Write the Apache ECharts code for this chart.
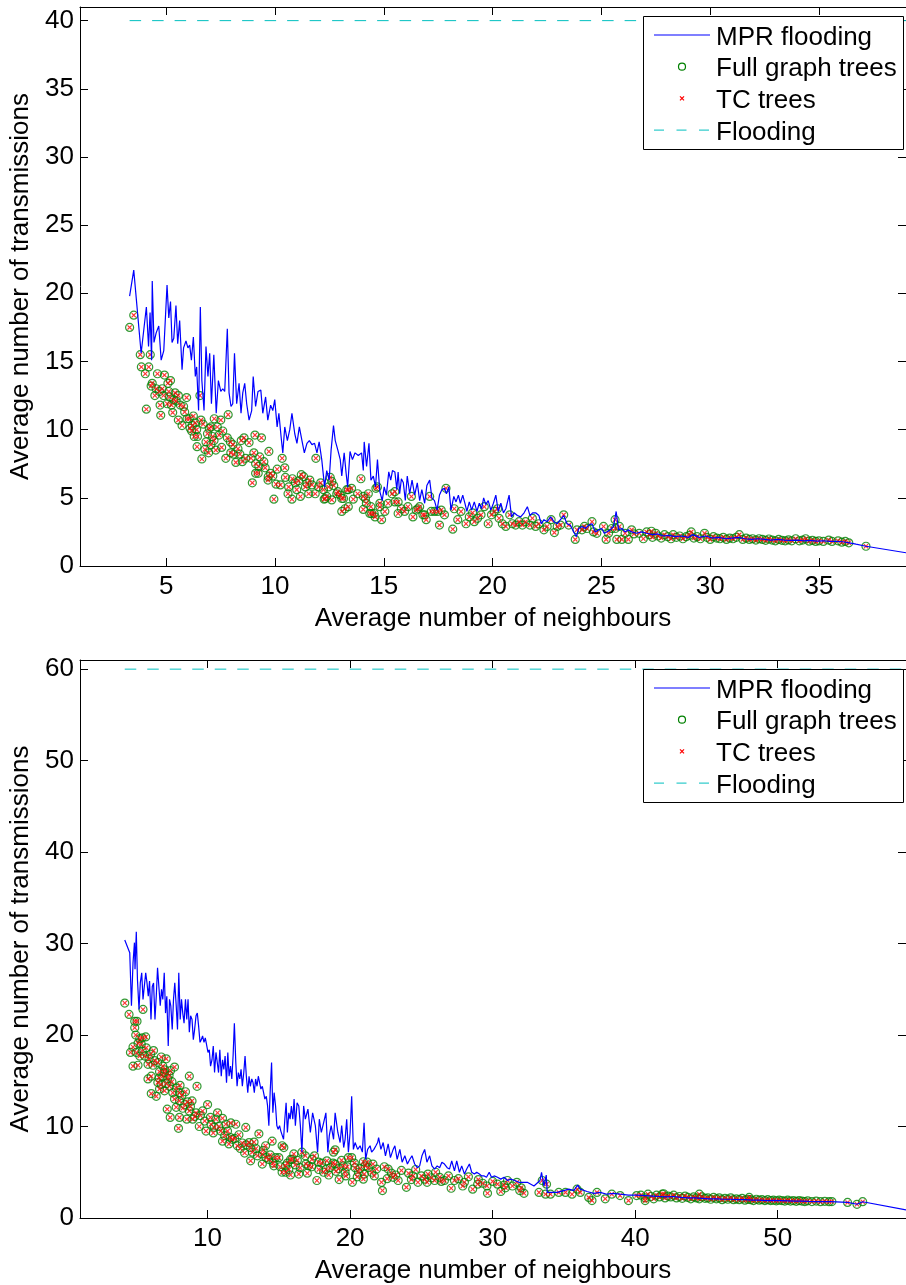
<!DOCTYPE html>
<html>
<head>
<meta charset="utf-8">
<script src="https://cdn.jsdelivr.net/npm/echarts@6/dist/echarts.min.js"></script>
<style>
html,body{margin:0;padding:0;background:#fff;}
#chart{width:906px;height:1285px;}
</style>
</head>
<body>
<div id="chart"></div>
<script>
// ---------- upper panel: networks with 40 nodes ----------
const mprTop = [
[3.32,19.8],[3.51,21.7],[3.85,15.6],[4.09,19.0],[4.19,16.1],[4.26,18.6],[4.33,15.1],[4.36,20.9],[4.44,16.4],[4.54,17.1],
[4.66,17.6],[4.77,15.1],[4.89,15.8],[5.04,20.6],[5.12,18.2],[5.20,19.4],[5.27,16.4],[5.35,16.7],[5.45,19.1],[5.53,16.3],
[5.62,18.0],[5.73,14.4],[5.80,16.0],[5.91,16.5],[6.00,16.0],[6.08,16.2],[6.16,15.1],[6.25,16.8],[6.34,13.9],[6.40,14.6],
[6.49,11.4],[6.57,19.0],[6.64,13.6],[6.74,11.4],[6.83,16.1],[6.92,13.9],[7.00,15.6],[7.08,11.9],[7.19,15.5],[7.30,11.2],
[7.40,13.6],[7.51,12.8],[7.60,13.0],[7.69,12.8],[7.81,17.4],[7.89,12.7],[7.98,11.7],[8.06,11.9],[8.14,15.6],[8.24,11.9],
[8.35,13.4],[8.44,11.2],[8.52,12.7],[8.61,13.4],[8.70,11.9],[8.81,10.7],[8.93,11.4],[9.00,13.9],[9.11,11.7],[9.22,12.8],
[9.35,12.9],[9.44,11.2],[9.57,12.4],[9.67,10.7],[9.80,11.8],[9.90,11.4],[9.99,12.2],[10.10,10.2],[10.18,11.2],[10.28,9.5],
[10.36,8.3],[10.45,10.2],[10.57,9.2],[10.68,10.0],[10.78,11.2],[10.91,9.7],[11.01,9.0],[11.12,10.2],[11.24,9.2],[11.35,8.3],
[11.47,9.0],[11.58,9.2],[11.70,8.9],[11.82,9.0],[11.93,8.3],[12.03,9.1],[12.15,7.8],[12.28,5.8],[12.38,7.0],[12.49,6.3],
[12.58,8.5],[12.69,10.3],[12.77,9.2],[12.89,8.5],[13.00,7.8],[13.07,6.6],[13.18,8.3],[13.27,6.8],[13.34,5.8],[13.45,8.4],
[13.56,7.8],[13.68,8.3],[13.83,8.1],[13.98,8.3],[14.06,7.0],[14.10,9.1],[14.21,7.3],[14.32,9.0],[14.41,6.3],[14.52,6.6],
[14.62,5.8],[14.71,7.8],[14.82,5.45],[14.93,4.8],[15.02,5.8],[15.12,5.2],[15.23,6.9],[15.32,6.3],[15.40,7.0],[15.51,6.9],
[15.60,5.6],[15.66,6.9],[15.73,5.3],[15.81,6.4],[15.90,6.1],[15.99,4.8],[16.08,6.6],[16.19,5.3],[16.30,6.3],[16.42,5.2],
[16.54,6.1],[16.65,4.8],[16.75,5.6],[16.88,4.6],[16.98,5.9],[17.11,6.3],[17.21,5.0],[17.33,4.8],[17.45,4.1],[17.56,5.2],
[17.67,5.6],[17.79,5.7],[17.88,5.3],[17.99,5.8],[18.09,4.1],[18.22,5.1],[18.32,4.7],[18.43,5.2],[18.52,4.6],[18.63,5.2],
[18.73,4.6],[18.82,4.0],[18.93,4.7],[19.04,4.1],[19.16,4.7],[19.28,4.0],[19.39,4.6],[19.50,4.2],[19.59,5.0],[19.69,4.5],
[19.80,4.8],[19.92,4.1],[20.04,4.6],[20.15,5.2],[20.26,4.0],[20.38,4.6],[20.50,3.9],[20.61,4.2],[20.76,5.2],[20.87,3.6],
[20.99,3.9],[21.14,3.7],[21.29,3.6],[21.45,3.9],[21.60,4.35],[21.72,3.7],[21.84,3.9],[21.98,3.9],[22.13,3.7],[22.24,3.1],
[22.36,3.4],[22.51,3.25],[22.67,3.6],[22.82,3.25],[22.97,3.1],[23.12,3.4],[23.27,3.7],[23.42,3.1],[23.57,3.0],[23.73,2.5],
[23.85,2.15],[23.96,2.75],[24.11,2.9],[24.26,2.75],[24.42,3.0],[24.57,3.1],[24.72,2.5],[24.87,2.65],[25.02,2.75],[25.13,2.4],
[25.25,2.5],[25.40,2.65],[25.56,2.9],[25.68,4.0],[25.79,2.65],[25.94,2.75],[26.09,2.5],[26.24,2.65],[26.39,2.5],[26.62,2.4],
[26.85,2.5],[27.08,2.4],[27.35,2.3],[27.60,2.35],[27.85,2.2],[28.10,2.25],[28.40,2.15],[28.70,2.2],[29.00,2.1],[29.20,2.3],
[29.50,2.1],[29.80,2.2],[30.10,2.05],[30.40,2.1],[30.70,2.0],[31.00,2.05],[31.30,2.1],[31.60,2.0],[31.90,1.95],[32.20,2.0],
[32.50,1.95],[32.80,1.9],[33.10,1.95],[33.40,1.9],[33.70,1.88],[34.00,1.9],[34.30,1.85],[34.60,1.88],[34.90,1.82],[35.20,1.85],
[35.50,1.8],[35.80,1.8],[36.10,1.78],[36.40,1.7],[36.70,1.6],[37.16,1.45],[39.00,0.97]
];
const fullTreesTop = [
[3.32,17.5],[3.51,18.4],[3.81,15.5],[4.27,15.5],[3.86,14.6],[4.20,14.6],[4.04,14.1],[4.60,14.1],[4.92,14.0],[5.20,13.6],
[4.36,13.4],[4.31,13.2],[4.54,13.0],[4.82,13.0],[5.08,13.4],[4.48,12.5],[4.69,12.8],[4.88,12.5],[5.12,12.8],[5.15,12.4],
[5.41,12.7],[5.56,12.5],[5.94,12.35],[6.55,12.5],[5.46,12.1],[5.24,11.8],[5.65,11.8],[4.72,11.8],[4.09,11.5],[4.75,11.05],
[5.30,11.25],[5.56,10.7],[5.73,10.3],[5.96,10.8],[6.06,10.8],[6.34,10.5],[6.17,9.9],[6.40,10.0],[6.60,10.7],[6.98,10.1],
[7.21,10.8],[7.51,10.7],[7.85,11.1],[7.06,10.2],[6.44,9.5],[6.29,9.5],[6.83,9.1],[7.13,9.5],[7.43,9.6],[7.81,9.4],
[6.42,8.75],[6.78,8.55],[7.06,8.9],[7.28,8.5],[6.64,7.85],[6.95,8.3],[7.74,7.9],[8.07,8.9],[7.97,8.3],[8.20,7.6],
[8.39,8.2],[8.50,7.65],[8.65,7.9],[8.81,9.05],[8.58,9.4],[9.03,8.3],[9.11,7.5],[8.96,6.1],[9.11,6.8],[9.23,6.8],
[9.38,9.4],[9.72,8.4],[9.68,6.3],[9.80,6.8],[9.95,4.9],[10.33,7.9],[10.25,5.95],[10.48,6.5],[10.63,5.8],[10.78,4.9],
[10.94,6.1],[11.09,6.25],[11.21,6.7],[11.17,5.1],[11.40,5.8],[11.55,5.3],[11.70,5.95],[11.88,7.9],[12.00,5.8],[12.26,4.9],
[12.38,5.1],[12.54,6.5],[12.61,4.85],[12.84,5.3],[13.07,4.0],[13.15,4.95],[13.30,5.6],[13.37,4.35],[13.52,5.7],[13.95,6.4],
[14.06,4.15],[14.16,4.95],[14.29,5.3],[14.41,4.35],[14.56,3.85],[14.64,5.7],[9.08,9.6],[9.49,7.65],[9.26,7.3],[9.69,6.55],
[11.32,6.55],[11.47,6.05],[12.61,6.2],[12.46,5.8],[12.89,5.45],[13.07,4.95],[13.22,4.2],[13.37,5.6],[12.31,4.95],[12.23,5.6],
[14.71,5.8],[14.44,3.85],[14.82,4.35],[15.05,4.0],[14.90,3.4],[15.20,4.6],[15.38,5.3],[15.51,5.45],[15.66,4.7],[15.81,4.2],
[15.96,4.0],[16.11,4.35],[16.27,5.1],[16.49,4.1],[16.65,4.35],[16.88,3.75],[17.11,5.1],[17.33,4.0],[17.56,3.0],[17.64,4.1],
[17.86,5.7],[14.06,5.1],[14.36,3.85],[14.60,3.6],[14.82,4.6],[15.51,4.7],[15.66,3.85],[16.34,3.6],[16.57,4.2],[16.80,3.75],
[16.95,3.4],[17.18,4.0],[17.48,4.0],[17.79,3.75],[18.17,2.7],[18.24,4.2],[18.40,3.4],[18.55,4.0],[18.78,3.1],[18.93,3.6],
[19.08,3.9],[19.16,3.25],[19.31,3.5],[19.47,3.75],[19.62,4.35],[19.80,3.1],[19.95,3.75],[20.08,4.0],[20.23,4.2],[20.30,3.5],
[20.45,3.1],[20.61,2.9],[20.79,3.75],[20.91,3.1],[21.06,3.0],[21.22,3.25],[21.37,3.0],[21.52,3.25],[21.72,3.0],[21.83,3.5],
[21.98,2.9],[22.13,3.1],[22.36,2.65],[22.51,2.9],[22.69,3.4],[22.84,2.45],[22.97,2.9],[23.12,3.0],[23.27,3.75],[23.50,3.0],
[23.80,1.95],[23.88,2.65],[24.11,2.65],[24.22,2.9],[24.34,2.75],[24.57,3.25],[24.64,2.5],[24.79,2.4],[25.10,2.9],[25.22,1.95],
[25.33,2.4],[25.48,2.75],[25.63,3.4],[25.71,1.95],[25.83,2.9],[25.94,1.95],[26.09,2.4],[26.24,1.95],[26.39,2.65],[26.50,2.35],
[26.74,2.4],[26.93,2.0],[25.64,2.75],[27.08,2.5],[27.20,2.3],[27.30,2.55],[27.35,2.1],[27.50,2.4],[27.60,2.2],[27.75,2.05],
[27.90,2.3],[28.05,2.15],[28.20,2.0],[28.30,2.3],[28.45,2.1],[28.60,2.2],[28.75,2.0],[28.90,2.15],[29.05,2.25],[29.13,2.5],
[29.25,2.05],[29.40,2.15],[29.55,2.0],[29.74,2.4],[29.85,2.1],[30.00,1.95],[30.15,2.15],[30.30,2.05],[30.45,2.0],[30.60,2.1],
[30.75,1.95],[30.90,2.05],[31.05,2.0],[31.20,2.1],[31.34,2.3],[31.50,1.95],[31.65,2.05],[31.80,1.95],[31.95,2.0],[32.10,1.9],
[32.25,2.0],[32.40,1.95],[32.55,1.88],[32.70,1.98],[32.85,1.9],[33.00,1.85],[33.15,1.95],[33.30,1.88],[33.45,1.85],[33.60,1.92],
[33.75,1.85],[33.93,2.0],[34.10,1.85],[34.25,1.9],[34.39,2.0],[34.55,1.82],[34.70,1.88],[34.85,1.8],[35.00,1.85],[35.20,1.8],
[35.45,1.9],[35.60,1.8],[35.88,1.85],[36.05,1.75],[36.21,1.8],[36.37,1.7],[37.16,1.45],
[5.35,12.2],[5.05,11.9],[5.85,11.3],[6.25,11.0],[6.70,10.4],[6.20,10.3],[7.35,10.2],[7.60,9.9],[7.20,9.2],[6.90,9.7],
[7.95,9.1],[8.30,8.6],[8.45,9.2],[8.90,7.9],[9.30,8.0],[9.55,7.2],[9.90,6.6],[10.10,7.1],[10.45,7.2],[10.80,6.4],
[11.00,5.6],[11.60,6.3],[11.85,5.3],[12.10,6.1],[12.70,5.9],[13.00,5.2],[13.60,4.9],[13.80,5.3],[14.20,4.6],[10.05,6.0],
[10.60,5.3],[8.10,8.2],[7.55,8.7],[6.10,10.1],[5.80,11.7]
];
// the TC-based trees need exactly as many transmissions as the full-graph trees
const tcTreesTop = fullTreesTop;
const floodTop = [[3.32,40],[39.00,40]];
const xRangeTop = [1.04, 39];
const yRangeTop = [0, 41];
const xTicksTop = [5,10,15,20,25,30,35];
const yTicksTop = [0,5,10,15,20,25,30,35,40];

// ---------- lower panel: networks with 60 nodes ----------
const mprBottom = [
[4.19,30.4],[4.54,29.0],[4.66,23.2],[4.77,27.9],[4.87,30.1],[4.91,27.2],[5.00,31.3],[5.08,26.1],[5.19,22.8],[5.28,25.7],
[5.38,26.8],[5.47,23.9],[5.56,25.3],[5.66,26.8],[5.75,25.7],[5.84,24.25],[5.93,25.9],[6.03,21.7],[6.12,25.3],[6.21,25.7],
[6.31,21.7],[6.40,24.25],[6.49,27.35],[6.59,27.2],[6.68,23.2],[6.77,25.0],[6.86,23.9],[6.96,26.8],[7.05,22.4],[7.14,24.25],
[7.24,18.8],[7.33,23.9],[7.42,23.2],[7.52,20.6],[7.61,23.9],[7.70,25.7],[7.80,23.2],[7.89,20.6],[7.98,26.8],[8.08,21.7],
[8.17,23.9],[8.26,22.4],[8.35,21.3],[8.45,23.9],[8.54,21.7],[8.63,23.9],[8.72,20.3],[8.81,22.1],[8.91,21.7],[9.00,19.5],
[9.09,20.6],[9.19,22.1],[9.28,22.4],[9.37,21.0],[9.47,19.2],[9.56,19.5],[9.65,19.9],[9.75,19.2],[9.84,19.7],[9.93,19.9],
[10.03,18.1],[10.12,18.4],[10.21,16.6],[10.31,17.3],[10.40,18.8],[10.49,15.9],[10.59,18.1],[10.68,17.0],[10.77,15.9],[10.86,18.4],
[10.96,15.5],[11.05,17.3],[11.14,16.25],[11.23,17.7],[11.33,14.8],[11.42,18.1],[11.51,15.5],[11.61,16.6],[11.70,15.2],[11.79,17.7],
[11.88,21.3],[11.98,17.0],[12.07,14.4],[12.16,15.9],[12.26,15.2],[12.35,16.25],[12.44,14.4],[12.54,15.9],[12.63,17.7],[12.72,15.5],
[12.82,13.7],[12.91,15.5],[13.00,14.4],[13.10,15.2],[13.19,14.8],[13.28,13.7],[13.37,15.2],[13.47,14.4],[13.56,15.5],[13.65,14.8],
[13.74,14.1],[13.84,14.4],[13.93,13.7],[14.02,13.0],[14.12,13.3],[14.21,12.25],[14.30,10.1],[14.39,13.7],[14.49,17.0],[14.58,11.5],
[14.67,13.7],[14.77,12.25],[14.86,10.1],[14.95,9.7],[15.05,10.1],[15.14,9.5],[15.23,9.35],[15.33,8.6],[15.42,10.8],[15.51,12.6],
[15.60,9.35],[15.70,11.5],[15.79,10.8],[15.88,12.25],[15.98,10.8],[16.07,13.0],[16.16,10.1],[16.28,12.6],[16.40,12.25],[16.51,10.1],
[16.62,7.2],[16.74,12.25],[16.86,10.8],[17.04,11.9],[17.21,9.35],[17.37,11.5],[17.56,10.1],[17.72,7.2],[17.84,10.8],[17.98,9.35],
[18.14,10.4],[18.30,11.5],[18.44,7.2],[18.54,9.0],[18.67,10.1],[18.84,8.6],[18.95,11.5],[19.14,9.35],[19.30,8.25],[19.41,10.1],
[19.55,7.7],[19.65,8.6],[19.76,10.8],[19.88,7.2],[20.00,9.35],[20.11,13.3],[20.23,7.5],[20.35,8.25],[20.53,7.5],[20.70,7.9],
[20.86,7.2],[20.98,10.4],[21.09,6.4],[21.23,7.5],[21.40,7.9],[21.51,7.2],[21.67,7.5],[21.81,7.9],[21.93,8.25],[22.00,8.8],
[22.16,7.5],[22.32,8.25],[22.48,6.8],[22.67,8.1],[22.83,6.6],[23.02,7.5],[23.14,7.9],[23.30,6.4],[23.49,7.5],[23.65,6.1],
[23.84,6.8],[24.02,5.9],[24.18,6.4],[24.34,6.8],[24.53,5.9],[24.71,5.5],[24.88,5.7],[25.04,6.8],[25.23,7.5],[25.39,6.1],
[25.58,6.8],[25.74,5.7],[25.93,5.35],[26.11,5.7],[26.28,5.5],[26.44,6.1],[26.62,5.9],[26.81,5.5],[26.97,5.35],[27.13,6.25],
[27.32,5.15],[27.48,6.25],[27.67,5.0],[27.83,5.7],[28.02,4.8],[28.18,5.35],[28.37,5.9],[28.53,5.0],[28.72,4.8],[28.88,5.0],
[29.07,4.8],[29.23,4.6],[29.41,4.6],[29.57,4.45],[29.76,5.0],[29.92,4.45],[30.11,4.6],[30.34,4.45],[30.57,4.25],[30.81,4.45],
[31.04,4.1],[31.27,4.25],[31.55,4.1],[31.86,3.9],[32.20,3.9],[32.43,3.9],[32.90,3.5],[33.32,4.1],[33.43,5.0],[33.60,3.5],
[33.76,4.7],[33.83,2.8],[34.06,2.8],[34.53,2.8],[34.99,3.0],[35.34,3.15],[35.69,3.0],[35.97,3.6],[36.15,3.15],[36.62,2.9],
[37.09,2.7],[37.55,2.8],[38.01,2.6],[38.48,2.7],[38.94,2.6],[39.53,2.5],[40.10,2.5],[40.68,2.45],[41.20,2.4],[41.70,2.35],
[42.20,2.3],[42.70,2.35],[43.20,2.25],[43.70,2.2],[44.20,2.2],[44.70,2.15],[45.20,2.1],[45.70,2.1],[46.20,2.05],[46.70,2.05],
[47.20,2.0],[47.70,2.0],[48.20,1.95],[48.70,1.95],[49.20,1.9],[49.70,1.92],[50.20,1.9],[50.70,1.88],[51.20,1.85],[51.70,1.85],
[52.20,1.82],[52.70,1.8],[53.20,1.8],[53.70,1.78],[54.90,1.7],[55.56,1.5],[55.96,1.78],[59.00,0.88]
];
const fullTreesBottom = [
[4.19,23.5],[4.49,22.25],[5.47,22.8],[4.89,21.5],[5.05,21.5],[4.89,20.8],[4.96,20.0],[5.24,19.6],[5.42,19.7],[5.66,19.8],
[5.12,19.1],[5.35,19.0],[4.77,18.7],[4.59,18.1],[5.00,18.1],[6.21,18.3],[5.42,18.25],[5.24,17.7],[5.59,17.7],[5.89,17.4],
[6.75,17.6],[7.10,17.4],[4.77,16.6],[5.12,16.7],[5.82,16.8],[6.17,16.7],[6.51,17.0],[6.86,16.6],[7.68,16.5],[7.40,16.1],
[6.98,15.9],[6.63,16.0],[6.05,15.5],[5.82,15.2],[6.86,15.5],[7.21,15.25],[6.51,14.8],[6.75,14.6],[7.10,14.7],[7.33,14.4],
[8.07,14.5],[8.72,15.5],[9.26,14.4],[6.63,14.1],[6.98,13.9],[7.56,13.7],[8.03,13.7],[8.45,13.8],[6.05,13.6],[6.40,13.3],
[7.68,13.0],[8.03,12.8],[8.60,12.7],[8.91,12.8],[7.17,11.9],[7.80,12.1],[8.26,12.0],[8.72,11.7],[9.19,11.5],[9.65,11.7],
[10.00,12.4],[7.38,11.0],[8.03,11.0],[8.54,10.8],[8.96,10.8],[9.42,10.0],[7.96,9.8],[9.89,9.5],[10.24,10.25],[10.59,10.8],
[10.70,11.5],[11.05,10.9],[11.28,10.25],[11.63,10.4],[10.47,9.9],[10.93,9.5],[11.40,9.5],[12.68,9.9],[11.98,10.25],[11.05,8.4],
[11.74,8.6],[12.09,7.9],[12.44,8.2],[12.91,8.25],[13.26,8.3],[13.60,9.2],[13.14,7.2],[13.84,7.0],[14.53,8.4],[15.23,7.9],
[14.07,7.9],[13.02,6.25],[14.30,6.4],[14.77,6.6],[13.84,5.9],[14.65,5.7],[15.47,5.7],[15.82,6.4],[16.05,7.0],[15.35,7.7],
[15.47,5.0],[15.82,4.7],[15.93,6.4],[16.16,5.8],[16.40,4.8],[16.62,7.2],[16.86,6.8],[17.09,5.7],[17.32,6.4],[17.67,4.1],
[17.79,6.1],[18.14,5.0],[18.37,6.25],[18.60,5.5],[18.84,7.2],[18.95,5.9],[19.23,4.2],[19.53,5.7],[19.65,5.0],[19.88,6.6],
[20.16,3.9],[20.35,5.5],[20.58,5.0],[20.93,4.25],[21.05,5.7],[21.51,5.0],[21.86,5.35],[15.23,5.0],[18.95,7.45],[20.11,6.6],
[20.93,6.15],[21.28,5.5],[22.20,3.9],[22.27,3.0],[22.67,5.35],[23.02,4.45],[23.37,4.1],[23.95,3.35],[24.41,4.6],[24.76,3.9],
[25.23,4.25],[25.46,4.8],[25.93,4.1],[26.28,4.45],[26.62,4.1],[27.09,3.25],[27.32,4.1],[28.02,3.9],[28.60,3.15],[28.95,3.7],
[29.64,2.7],[30.34,3.7],[30.57,2.9],[31.04,4.1],[31.39,3.5],[32.20,2.7],[11.60,8.8],[12.20,9.1],[12.70,8.0],[13.40,7.6],
[13.90,7.4],[14.40,6.9],[15.00,6.6],[15.60,6.0],[16.30,6.3],[16.90,5.9],[17.30,5.6],[17.50,6.8],[18.00,6.0],[18.30,5.3],
[18.80,6.0],[19.00,5.1],[19.40,6.3],[19.80,5.6],[20.30,6.0],[20.70,5.4],[21.20,6.1],[21.60,5.9],[22.40,5.6],[22.90,4.9],
[23.60,5.2],[24.10,4.9],[24.60,5.3],[25.00,4.6],[25.70,4.4],[26.00,5.0],[26.90,4.6],[27.60,4.3],[28.30,4.5],[29.00,4.2],
[29.30,3.8],[30.00,4.0],[30.80,3.6],[31.70,3.9],[32.00,3.3],[33.25,2.8],[33.48,4.1],[33.78,3.7],[33.71,2.6],[34.06,2.6],
[34.64,2.8],[35.11,2.8],[35.57,2.6],[35.92,3.15],[36.15,2.8],[36.74,2.25],[36.97,1.9],[37.32,2.8],[37.90,2.1],[38.36,2.6],
[38.94,2.45],[39.53,1.9],[40.10,2.45],[40.40,2.5],[40.70,2.2],[40.70,1.9],[40.90,2.6],[41.10,2.35],[41.30,2.1],[41.50,2.5],
[41.70,2.3],[41.90,2.6],[42.00,2.65],[42.10,2.2],[42.30,2.4],[42.50,2.3],[42.70,2.5],[42.90,2.2],[43.10,2.35],[43.30,2.15],
[43.50,2.4],[43.70,2.25],[43.90,2.1],[44.10,2.3],[44.30,2.2],[44.50,2.6],[44.50,2.1],[44.70,2.3],[44.90,2.15],[45.10,2.2],
[45.30,2.05],[45.50,2.25],[45.70,2.1],[45.90,2.2],[46.10,2.0],[46.30,2.15],[46.50,2.05],[46.70,2.2],[46.90,2.0],[47.10,2.1],
[47.30,2.0],[47.50,2.15],[47.70,1.95],[47.90,2.05],[48.00,2.25],[48.10,2.0],[48.30,1.9],[48.50,2.05],[48.70,1.95],[48.90,2.0],
[49.10,1.9],[49.30,2.0],[49.50,1.9],[49.70,1.95],[49.90,1.88],[50.10,1.95],[50.30,1.9],[50.50,1.85],[50.70,1.95],[50.90,1.85],
[51.10,1.9],[51.30,1.82],[51.50,1.9],[51.70,1.85],[51.90,1.8],[52.10,1.88],[52.40,1.8],[52.70,1.85],[53.00,1.78],[53.30,1.82],
[53.60,1.78],[53.80,1.8],[54.90,1.7],[55.56,1.5],[55.96,1.78],
[5.70,18.6],[6.00,17.9],[6.30,17.2],[6.60,15.3],[7.00,16.2],[7.30,15.6],[7.50,14.9],[7.80,14.2],[8.20,13.4],[8.40,12.4],
[8.80,12.2],[9.10,11.1],[9.50,11.2],[9.80,10.6],[10.20,11.0],[10.40,9.3],[10.80,10.0],[11.20,9.0],[11.50,8.1],[11.90,8.7],
[12.30,7.6],[12.60,7.1],[13.00,7.7],[13.50,6.8],[14.10,6.6],[14.60,6.0],[15.10,5.6],[15.70,5.3],[16.50,5.5],[17.00,4.9],
[17.80,5.3],[18.50,4.7],[19.20,5.4],[19.70,4.6],[20.50,4.5],[21.00,4.8],[21.70,4.6],[22.60,4.3],[23.20,4.7],[24.30,4.2],
[25.40,3.9],[26.40,4.0],[27.90,3.5],[29.60,3.5],[30.90,3.3],[31.90,3.0]
];
const tcTreesBottom = fullTreesBottom;
const floodBottom = [[4.19,60],[59.00,60]];
const xRangeBottom = [1.05, 59];
const yRangeBottom = [0, 61];
const xTicksBottom = [10,20,30,40,50];
const yTicksBottom = [0,10,20,30,40,50,60];

// ---------- labels ----------
const seriesNames = ['MPR flooding', 'Full graph trees', 'TC trees', 'Flooding'];
const xTitle = 'Average number of neighbours';
const yTitle = 'Average number of transmissions';

const FONT = '"Liberation Sans", Arial, Helvetica, sans-serif';
const FS = 26;
const BLUE = '#0000ff', GREEN = '#008000', RED = '#ff0000', CYAN = '#00bfbf';
const CROSS = 'path://M0,1.6L1.6,0L5,3.4L8.4,0L10,1.6L6.6,5L10,8.4L8.4,10L5,6.6L1.6,10L0,8.4L3.4,5Z';

const panels = [
  {mpr: mprTop, full: fullTreesTop, tc: tcTreesTop, flood: floodTop,
   xr: xRangeTop, yr: yRangeTop, xt: xTicksTop, yt: yTicksTop, top: 7, legendTop: 16},
  {mpr: mprBottom, full: fullTreesBottom, tc: tcTreesBottom, flood: floodBottom,
   xr: xRangeBottom, yr: yRangeBottom, xt: xTicksBottom, yt: yTicksBottom, top: 660, legendTop: 669}
];

const grids = [], xAxes = [], yAxes = [], series = [], graphics = [];
const axisLine = {show: true, onZero: false, lineStyle: {color: '#000', width: 1}};
function ticks(values) {
  return {show: true, inside: true, length: 8, customValues: values, lineStyle: {color: '#000', width: 1}};
}

// boxed legend in the upper-right corner of each panel
function legendBox(top) {
  const rows = [top + 19, top + 50.7, top + 82.4, top + 114.1];
  const els = [
    {type: 'rect', z: 100, shape: {x: 643.5, y: top + 0.5, width: 260, height: 133},
     style: {fill: '#fff', stroke: '#000', lineWidth: 1}},
    {type: 'line', z: 101, shape: {x1: 654, y1: rows[0], x2: 710, y2: rows[0]},
     style: {stroke: BLUE, lineWidth: 1.2}},
    {type: 'circle', z: 101, shape: {cx: 682, cy: rows[1], r: 3.5},
     style: {fill: 'none', stroke: GREEN, lineWidth: 1.2}},
    {type: 'line', z: 101, shape: {x1: 680, y1: rows[2] - 2, x2: 684, y2: rows[2] + 2},
     style: {stroke: RED, lineWidth: 1.2}},
    {type: 'line', z: 101, shape: {x1: 680, y1: rows[2] + 2, x2: 684, y2: rows[2] - 2},
     style: {stroke: RED, lineWidth: 1.2}},
    {type: 'line', z: 101, shape: {x1: 654, y1: rows[3], x2: 710, y2: rows[3]},
     style: {stroke: CYAN, lineWidth: 1, lineDash: [10, 12.5]}}
  ];
  seriesNames.forEach((name, k) => {
    els.push({type: 'text', z: 101, x: 716, y: rows[k] + 2.5,
      style: {text: name, fill: '#000', font: FS + 'px ' + FONT, verticalAlign: 'middle', align: 'left'}});
  });
  return els;
}

panels.forEach((p, i) => {
  grids.push({left: 80, top: p.top, width: 831, height: 559});
  // bottom / top x axes
  xAxes.push({type: 'value', gridIndex: i, position: 'bottom', min: p.xr[0], max: p.xr[1],
    axisLine, axisTick: ticks(p.xt), splitLine: {show: false},
    axisLabel: {customValues: p.xt, color: '#000', fontSize: FS, fontFamily: FONT, margin: 8},
    name: xTitle, nameLocation: 'middle', nameGap: 40,
    nameTextStyle: {color: '#000', fontSize: FS, fontFamily: FONT}});
  xAxes.push({type: 'value', gridIndex: i, position: 'top', min: p.xr[0], max: p.xr[1],
    axisLine, axisTick: ticks(p.xt), axisLabel: {show: false}, splitLine: {show: false}});
  // left / right y axes
  yAxes.push({type: 'value', gridIndex: i, position: 'left', min: p.yr[0], max: p.yr[1],
    axisLine, axisTick: ticks(p.yt), splitLine: {show: false},
    axisLabel: {customValues: p.yt, color: '#000', fontSize: FS, fontFamily: FONT, margin: 6},
    name: yTitle, nameLocation: 'middle', nameGap: 44,
    nameTextStyle: {color: '#000', fontSize: FS, fontFamily: FONT}});
  yAxes.push({type: 'value', gridIndex: i, position: 'right', min: p.yr[0], max: p.yr[1],
    axisLine, axisTick: ticks(p.yt), axisLabel: {show: false}, splitLine: {show: false}});

  const ax = {xAxisIndex: 2 * i, yAxisIndex: 2 * i};
  series.push(Object.assign({type: 'line', name: seriesNames[0], data: p.mpr, symbol: 'none',
    lineStyle: {color: BLUE, width: 1.2}, itemStyle: {color: BLUE}, silent: true}, ax));
  series.push(Object.assign({type: 'scatter', name: seriesNames[1], data: p.full, symbol: 'circle',
    symbolSize: 8, itemStyle: {color: 'rgba(0,0,0,0)', borderColor: GREEN, borderWidth: 1.2}, silent: true}, ax));
  series.push(Object.assign({type: 'scatter', name: seriesNames[2], data: p.tc, symbol: CROSS,
    symbolSize: 5, itemStyle: {color: RED}, silent: true}, ax));
  series.push(Object.assign({type: 'line', name: seriesNames[3], data: p.flood, symbol: 'none',
    lineStyle: {color: CYAN, width: 1, type: [11.5, 11]}, itemStyle: {color: CYAN}, silent: true}, ax));

  graphics.push(...legendBox(p.legendTop));
});

const chart = echarts.init(document.getElementById('chart'), null, {renderer: 'canvas'});
chart.setOption({
  animation: false,
  backgroundColor: '#fff',
  textStyle: {fontFamily: FONT},
  grid: grids,
  xAxis: xAxes,
  yAxis: yAxes,
  series: series,
  graphic: {elements: graphics}
});
</script>
</body>
</html>
